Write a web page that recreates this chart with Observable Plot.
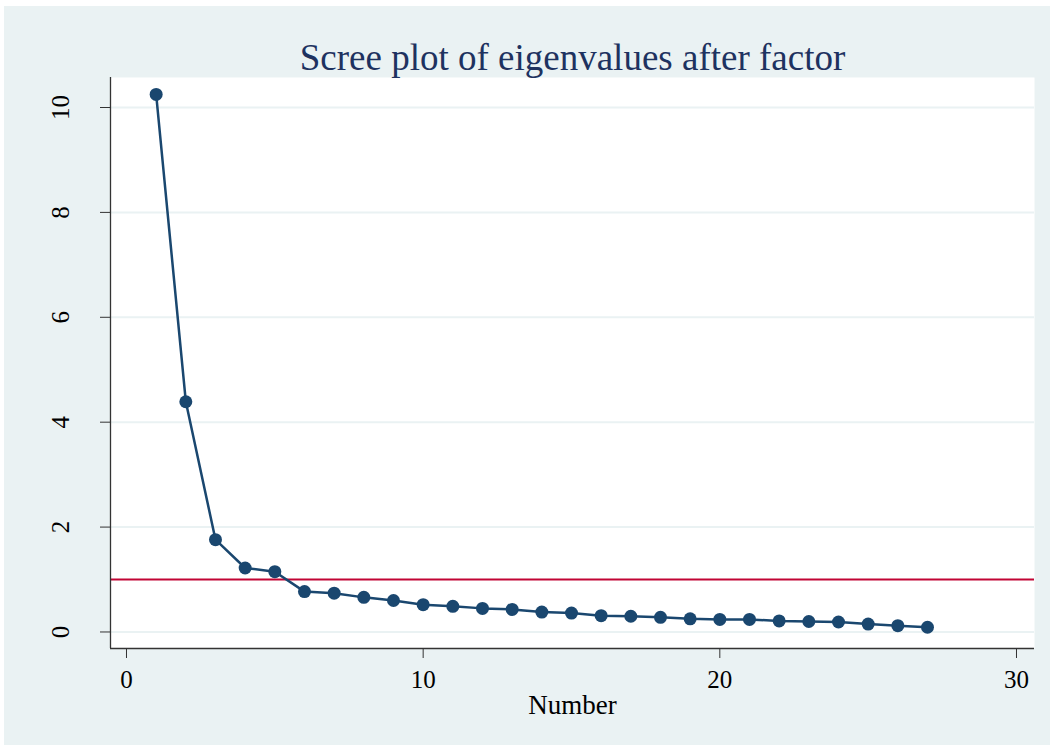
<!DOCTYPE html>
<html>
<head>
<meta charset="utf-8">
<script src="https://cdn.jsdelivr.net/npm/d3@7"></script>
<script src="https://cdn.jsdelivr.net/npm/@observablehq/plot@0.6"></script>
<style>
  html, body { margin: 0; padding: 0; background: #ffffff; }
  #chart { position: absolute; left: 4px; top: 6px; width: 1046px; height: 739px; background: #EAF2F3; }
  #chart svg { display: block; }
</style>
</head>
<body>
<div id="chart"></div>
<script>
// Factor number and its eigenvalue
const factorNumber = [1, 2, 3, 4, 5, 6, 7, 8, 9, 10, 11, 12, 13, 14, 15, 16, 17, 18, 19, 20, 21, 22, 23, 24, 25, 26, 27];
const eigenvalues = [10.25, 4.39, 1.76, 1.22, 1.15, 0.77, 0.74, 0.66, 0.60, 0.52, 0.49, 0.45, 0.43, 0.38, 0.36, 0.31, 0.30, 0.28, 0.25, 0.24, 0.24, 0.21, 0.20, 0.19, 0.15, 0.12, 0.09];

// Axis ticks and the Kaiser cut-off line
const xTicks = [0, 10, 20, 30];
const yTicks = [0, 2, 4, 6, 8, 10];
const kaiserCutoff = [1];

const titleText = "Scree plot of eigenvalues after factor";
const xTitle = "Number";

const data = factorNumber.map((n, i) => ({ number: n, eigen: eigenvalues[i] }));

const serif = "'Liberation Serif', 'Times New Roman', Times, serif";
const navy = "#1A476F";
const xDomain = [-0.539, 30.607];
const yDomain = [-0.315, 10.572];

const chart = Plot.plot({
  width: 1046,
  height: 739,
  marginLeft: 106,
  marginRight: 16,
  marginTop: 71,
  marginBottom: 97,
  style: { background: "transparent", fontFamily: serif, color: "#000", overflow: "visible" },
  x: { domain: xDomain },
  y: { domain: yDomain },
  marks: [
    // white plot region
    Plot.frame({ fill: "#ffffff", stroke: "none" }),
    Plot.gridY(yTicks, { stroke: "#EAF2F3", strokeOpacity: 1, strokeWidth: 2 }),
    Plot.ruleY(kaiserCutoff, { stroke: "#C10534", strokeWidth: 2 }),
    Plot.line(data, { x: "number", y: "eigen", stroke: navy, strokeWidth: 2.5 }),
    Plot.dot(data, { x: "number", y: "eigen", fill: navy, r: 6.5 }),
    // axis lines
    Plot.ruleX([xDomain[0]], { stroke: "#333", strokeWidth: 1.3 }),
    Plot.ruleY([yDomain[0]], { stroke: "#333", strokeWidth: 1.3 }),
    Plot.axisX(xTicks, {
      tickSize: 10, tickPadding: 12, fontSize: 25, fontFamily: serif,
      label: null, stroke: "#333", fill: "#000"
    }),
    Plot.axisY(yTicks, { tickSize: 10, tickFormat: () => "", label: null, stroke: "#333" }),
    // rotated y tick labels
    Plot.text(yTicks, {
      y: d => d, text: d => String(d), frameAnchor: "left", dx: -50,
      rotate: -90, fontSize: 25, fontFamily: serif,
      textAnchor: "middle", lineAnchor: "middle", fill: "#000"
    }),
    Plot.text([xTitle], {
      text: d => d, frameAnchor: "bottom", dy: 57, fontSize: 27, fontFamily: serif,
      lineAnchor: "middle", fill: "#000"
    }),
    Plot.text([titleText], {
      text: d => d, frameAnchor: "top", dy: -19, fontSize: 37, fontFamily: serif,
      lineAnchor: "middle", fill: "#1E3260"
    })
  ]
});

document.getElementById("chart").appendChild(chart);
</script>
</body>
</html>
